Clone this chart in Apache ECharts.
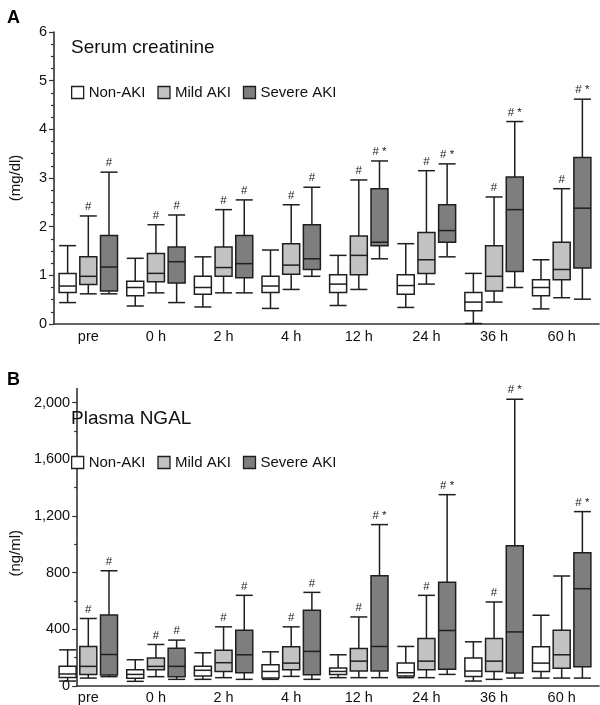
<!DOCTYPE html>
<html><head><meta charset="utf-8">
<script src="https://cdn.jsdelivr.net/npm/echarts@6/dist/echarts.min.js"></script>
<style>html,body{margin:0;padding:0;background:#fff}#c{width:600px;height:705px}</style>
</head><body><div id="c"></div>
<script>
const categories = ['pre', '0 h', '2 h', '4 h', '12 h', '24 h', '36 h', '60 h'];
const groupNames = ['Non-AKI', 'Mild AKI', 'Severe AKI'];

// each box: [min, Q1, median, Q3, max]
const creatNonAKI = [[0.44,0.645,0.78,1.04,1.61],[0.37,0.58,0.75,0.88,1.35],[0.35,0.61,0.75,0.98,1.38],[0.32,0.645,0.78,0.98,1.52],[0.38,0.645,0.82,1.01,1.41],[0.34,0.61,0.79,1.01,1.65],[0.01,0.27,0.45,0.645,1.04],[0.31,0.58,0.75,0.91,1.32]];
const creatMildAKI = [[0.62,0.81,0.98,1.38,2.22],[0.64,0.87,1.04,1.45,2.04],[0.64,0.98,1.16,1.58,2.35],[0.71,1.02,1.21,1.65,2.45],[0.71,1.01,1.41,1.81,2.96],[0.82,1.04,1.32,1.88,3.15],[0.45,0.68,0.98,1.61,2.61],[0.54,0.91,1.12,1.68,2.78]];
const creatSevereAKI = [[0.62,0.68,1.17,1.82,3.12],[0.44,0.84,1.28,1.58,2.24],[0.64,0.95,1.24,1.82,2.55],[0.98,1.12,1.34,2.04,2.81],[1.34,1.61,1.68,2.78,3.35],[1.38,1.68,1.92,2.45,3.29],[0.75,1.08,2.35,3.02,4.16],[0.51,1.15,2.38,3.42,4.62]];
const creatNonMarks = ['','','','','','','',''];
const creatMildMarks = ['#','#','#','#','#','#','#','#'];
const creatSevereMarks = ['#','#','#','#','# *','# *','# *','# *'];

const ngalNonAKI = [[28,54,78,132,249],[26,47,75,108,179],[40,64,104,132,228],[40,49,96,144,235],[52,75,96,120,214],[52,64,87,155,273],[28,61,99,191,306],[49,96,155,271,494]];
const ngalMildAKI = [[49,75,132,273,471],[59,108,132,191,287],[52,96,158,247,412],[61,108,155,271,412],[52,99,169,259,482],[52,108,169,329,635],[40,96,169,329,588],[49,118,214,388,772]];
const ngalSevereAKI = [[59,71,216,496,809],[40,59,132,261,318],[40,87,214,388,635],[40,73,238,529,656],[52,99,273,774,1136],[75,111,386,727,1348],[49,85,376,986,2024],[49,129,682,936,1228]];
const ngalNonMarks = ['','','','','','','',''];
const ngalMildMarks = ['#','#','#','#','#','#','#',''];
const ngalSevereMarks = ['#','#','#','#','# *','# *','# *','# *'];

const creatTicks = [0, 1, 2, 3, 4, 5, 6];
const ngalTicks = [0, 400, 800, 1200, 1600, 2000];
const ngalMinorTicks = [200, 600, 1000, 1400, 1800];

const FONT = '"Liberation Sans", Arial, Helvetica, sans-serif';
const fills = ['#ffffff', '#c2c2c2', '#7e7e7e'];
const border = '#1f1f1f';
const offsetFrac = [-0.306, 0, 0.306];
const BOXW = 17;

const panels = [
  { top: 32, height: 292, max: 6, name: '(mg/dl)', data: [creatNonAKI, creatMildAKI, creatSevereAKI], marks: [creatNonMarks, creatMildMarks, creatSevereMarks], ticks: creatTicks, minor: null, namePad: [0,0,0,0] },
  { top: 388.5, height: 297.5, max: 2100, name: '(ng/ml)', data: [ngalNonAKI, ngalMildAKI, ngalSevereAKI], marks: [ngalNonMarks, ngalMildMarks, ngalSevereMarks], ticks: ngalTicks, minor: ngalMinorTicks, namePad: [0,32,0,0] }
];

function boxRenderer(s, marks) {
  return function (params, api) {
    const i = api.value(0);
    const v = [api.value(1), api.value(2), api.value(3), api.value(4), api.value(5)];
    const band = api.size([1, 0])[0];
    const cx = api.coord([i, 0])[0] + band * offsetFrac[s];
    const y = v.map(val => api.coord([i, val])[1]);
    const h = BOXW / 2;
    const ls = { stroke: border, lineWidth: 1.5, fill: null };
    const children = [
      { type: 'line', shape: { x1: cx, y1: y[4], x2: cx, y2: y[3] }, style: ls },
      { type: 'line', shape: { x1: cx, y1: y[1], x2: cx, y2: y[0] }, style: ls },
      { type: 'line', shape: { x1: cx - h, y1: y[4], x2: cx + h, y2: y[4] }, style: ls },
      { type: 'line', shape: { x1: cx - h, y1: y[0], x2: cx + h, y2: y[0] }, style: ls },
      { type: 'rect', shape: { x: cx - h, y: y[3], width: BOXW, height: y[1] - y[3] }, style: { fill: fills[s], stroke: border, lineWidth: 1.5 } },
      { type: 'line', shape: { x1: cx - h, y1: y[2], x2: cx + h, y2: y[2] }, style: ls }
    ];
    const m = marks[params.dataIndex];
    if (m) {
      children.push({ type: 'text', x: cx, y: y[4] - 3, style: { text: m, align: 'center', verticalAlign: 'bottom', fontSize: 11.5, fontFamily: FONT, fill: '#222' } });
    }
    return { type: 'group', children };
  };
}

const grid = [], xAxis = [], yAxis = [], series = [];
panels.forEach((p, pi) => {
  const axesIdx = grid.length;
  grid.push({ left: 52, width: 547, top: p.top, height: p.height });
  xAxis.push({ gridIndex: axesIdx, type: 'category', data: categories, axisLine: { lineStyle: { color: '#333', width: 1.6 } }, axisTick: { show: false }, axisLabel: { show: false } });
  const ya = {
    gridIndex: axesIdx, type: 'value', min: 0, max: p.max, position: 'left',
    axisLine: { show: true, lineStyle: { color: '#333', width: 1.6 } },
    axisTick: { show: true, length: 5, lineStyle: { color: '#333', width: 1.2 }, customValues: p.ticks },
    minorTick: pi === 0 ? { show: true, splitNumber: 4, length: 3, lineStyle: { color: '#333', width: 1.2 } } : { show: false },
    splitLine: { show: false },
    axisLabel: { customValues: p.ticks, fontSize: 14.5, fontFamily: FONT, color: '#111', margin: 7, formatter: v => v.toLocaleString('en-US') },
    name: p.name, nameLocation: 'middle', nameGap: 31, nameRotate: 90,
    nameTextStyle: { fontSize: 15, fontFamily: FONT, color: '#111', padding: p.namePad }
  };
  if (pi === 0) ya.interval = 1;
  yAxis.push(ya);
  if (p.minor) {
    yAxis.push({ gridIndex: axesIdx, type: 'value', min: 0, max: p.max, position: 'left', offset: 0,
      axisLine: { show: false }, axisLabel: { show: false }, splitLine: { show: false },
      axisTick: { show: true, length: 3, customValues: p.minor, lineStyle: { color: '#333', width: 1.2 } } });
  }
  const gi = grid.length;
  grid.push({ left: 54.5, width: 541, top: p.top, height: p.height });
  const xi = xAxis.length;
  xAxis.push({ gridIndex: gi, type: 'category', data: categories, axisLine: { show: false }, axisTick: { show: false }, axisLabel: { fontSize: 14.5, fontFamily: FONT, color: '#111', margin: 5 } });
  const yi = yAxis.length;
  yAxis.push({ gridIndex: gi, type: 'value', min: 0, max: p.max, show: false });
  for (let s = 0; s < 3; s++) {
    series.push({
      name: groupNames[s], type: 'custom', xAxisIndex: xi, yAxisIndex: yi,
      data: p.data[s].map((d, i) => [i].concat(d)),
      encode: { x: 0, y: [1, 2, 3, 4, 5] },
      renderItem: boxRenderer(s, p.marks[s]),
      itemStyle: { color: fills[s], borderColor: border },
      silent: true, clip: false
    });
  }
});

const legendItems = groupNames.map((n, i) => ({ name: n, itemStyle: { color: fills[i], borderColor: border, borderWidth: 1.3 } }));
const chart = echarts.init(document.getElementById('c'), null, { renderer: 'canvas' });
chart.setOption({
  animation: false,
  backgroundColor: '#fff',
  title: [
    { text: 'A', left: 2, top: 4, textStyle: { fontSize: 18, fontWeight: 'bold', fontFamily: FONT, color: '#000' } },
    { text: 'Serum creatinine', left: 66, top: 33, textStyle: { fontSize: 19, fontWeight: 'normal', fontFamily: FONT, color: '#111' } },
    { text: 'B', left: 2, top: 366, textStyle: { fontSize: 18, fontWeight: 'bold', fontFamily: FONT, color: '#000' } },
    { text: 'Plasma NGAL', left: 66, top: 404, textStyle: { fontSize: 19, fontWeight: 'normal', fontFamily: FONT, color: '#111' } }
  ],
  legend: [
    { left: 66, top: 80, data: legendItems, icon: 'rect', itemWidth: 12, itemHeight: 12, itemGap: 12, selectedMode: false, textStyle: { fontSize: 15, fontFamily: FONT, color: '#111' } },
    { left: 66, top: 450, data: legendItems, icon: 'rect', itemWidth: 12, itemHeight: 12, itemGap: 12, selectedMode: false, textStyle: { fontSize: 15, fontFamily: FONT, color: '#111' } }
  ],
  grid, xAxis, yAxis, series
});
</script></body></html>
